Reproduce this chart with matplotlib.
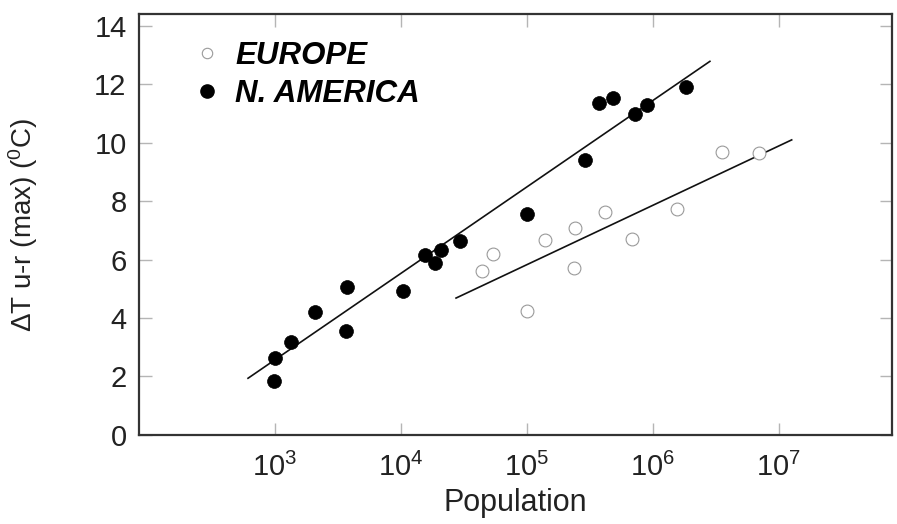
import numpy as np
import matplotlib.pyplot as plt
from matplotlib.lines import Line2D

plt.rcParams['font.family'] = ['Liberation Sans', 'DejaVu Sans']
plt.rcParams['mathtext.fontset'] = 'custom'
plt.rcParams['mathtext.rm'] = 'Liberation Sans'
plt.rcParams['mathtext.it'] = 'Liberation Sans:italic'
plt.rcParams['mathtext.bf'] = 'Liberation Sans:bold'

# data (log10 of population, temperature difference)
na_logpop = [2.99, 3.00, 3.13, 3.32, 3.57, 3.56, 4.02, 4.19, 4.27, 4.32, 4.47,
             5.00, 5.46, 5.57, 5.68, 5.86, 5.95, 6.26]
na_dt = [1.86, 2.62, 3.18, 4.20, 5.05, 3.56, 4.91, 6.17, 5.88, 6.34, 6.63,
         7.56, 9.40, 11.36, 11.52, 10.99, 11.30, 11.91]

eu_logpop = [4.64, 4.73, 5.00, 5.14, 5.38, 5.37, 5.62, 5.83, 6.19, 6.55, 6.84]
eu_dt = [5.60, 6.18, 4.25, 6.67, 7.08, 5.72, 7.61, 6.71, 7.74, 9.69, 9.63]

# regression lines: dT = a + b*log10(P)
na_fit = (-6.30, 2.957)
na_fit_range = [2.786, 6.452]
eu_fit = (-4.33, 2.031)
eu_fit_range = [4.437, 7.101]

xticks = [3, 4, 5, 6, 7]
yticks = [0, 2, 4, 6, 8, 10, 12, 14]

fig = plt.figure(figsize=(8.97, 5.24), dpi=100)
ax = fig.add_axes([0.155, 0.170, 0.8394, 0.8034])

ax.scatter(10 ** np.array(eu_logpop), eu_dt, s=85, facecolor='white',
           edgecolor='#9a9a9a', linewidth=0.8, zorder=3)
ax.scatter(10 ** np.array(na_logpop), na_dt, s=100, facecolor='black',
           edgecolor='black', linewidth=0.5, zorder=3)

for fit, rng in [(na_fit, na_fit_range), (eu_fit, eu_fit_range)]:
    lx = np.array(rng)
    ax.plot(10 ** lx, fit[0] + fit[1] * lx, color='#111111', lw=1.2, zorder=2)

ax.set_xscale('log')
ax.set_xlim(10 ** 1.921, 10 ** 7.897)
ax.set_ylim(0, 14.4)
ax.set_xticks([10 ** t for t in xticks])
ax.set_xticklabels([r'$\mathregular{10^{%d}}$' % t for t in xticks], fontsize=21)
ax.minorticks_off()
ax.set_yticks(yticks)
ax.set_yticklabels([str(t) for t in yticks], fontsize=21, color='#222222')
ax.tick_params(axis='both', which='major', direction='in', length=9, width=1,
               color='#b5b5b5', top=True, right=True)
ax.tick_params(axis='x', colors='#b5b5b5', labelcolor='#222222', pad=13)
ax.tick_params(axis='y', colors='#b5b5b5', labelcolor='#222222', pad=9)
for sp in ax.spines.values():
    sp.set_color('#333333')
    sp.set_linewidth(1.6)

ax.set_xlabel('Population', fontsize=22, color='#222222', va='top')
ax.xaxis.set_label_coords(0.5, -0.125)
ax.set_ylabel(r'$\Delta$T u-r (max) ($\mathregular{^0}$C)', fontsize=20,
              color='#222222')
ax.yaxis.set_label_coords(-0.131, 0.5)

handles = [
    Line2D([], [], ls='none', marker='o', markersize=7.5, markerfacecolor='white',
           markeredgecolor='#9a9a9a', markeredgewidth=0.8),
    Line2D([], [], ls='none', marker='o', markersize=9.5, markerfacecolor='black',
           markeredgecolor='black'),
]
ax.legend(handles, ['EUROPE', 'N. AMERICA'], loc='upper left',
          bbox_to_anchor=(0.072, 0.935), frameon=False, borderaxespad=0,
          borderpad=0, handlelength=0.9, handletextpad=0.45, labelspacing=0.25,
          prop={'weight': 'bold', 'style': 'italic', 'size': 22.5})

fig.savefig('out.png', dpi=100)
